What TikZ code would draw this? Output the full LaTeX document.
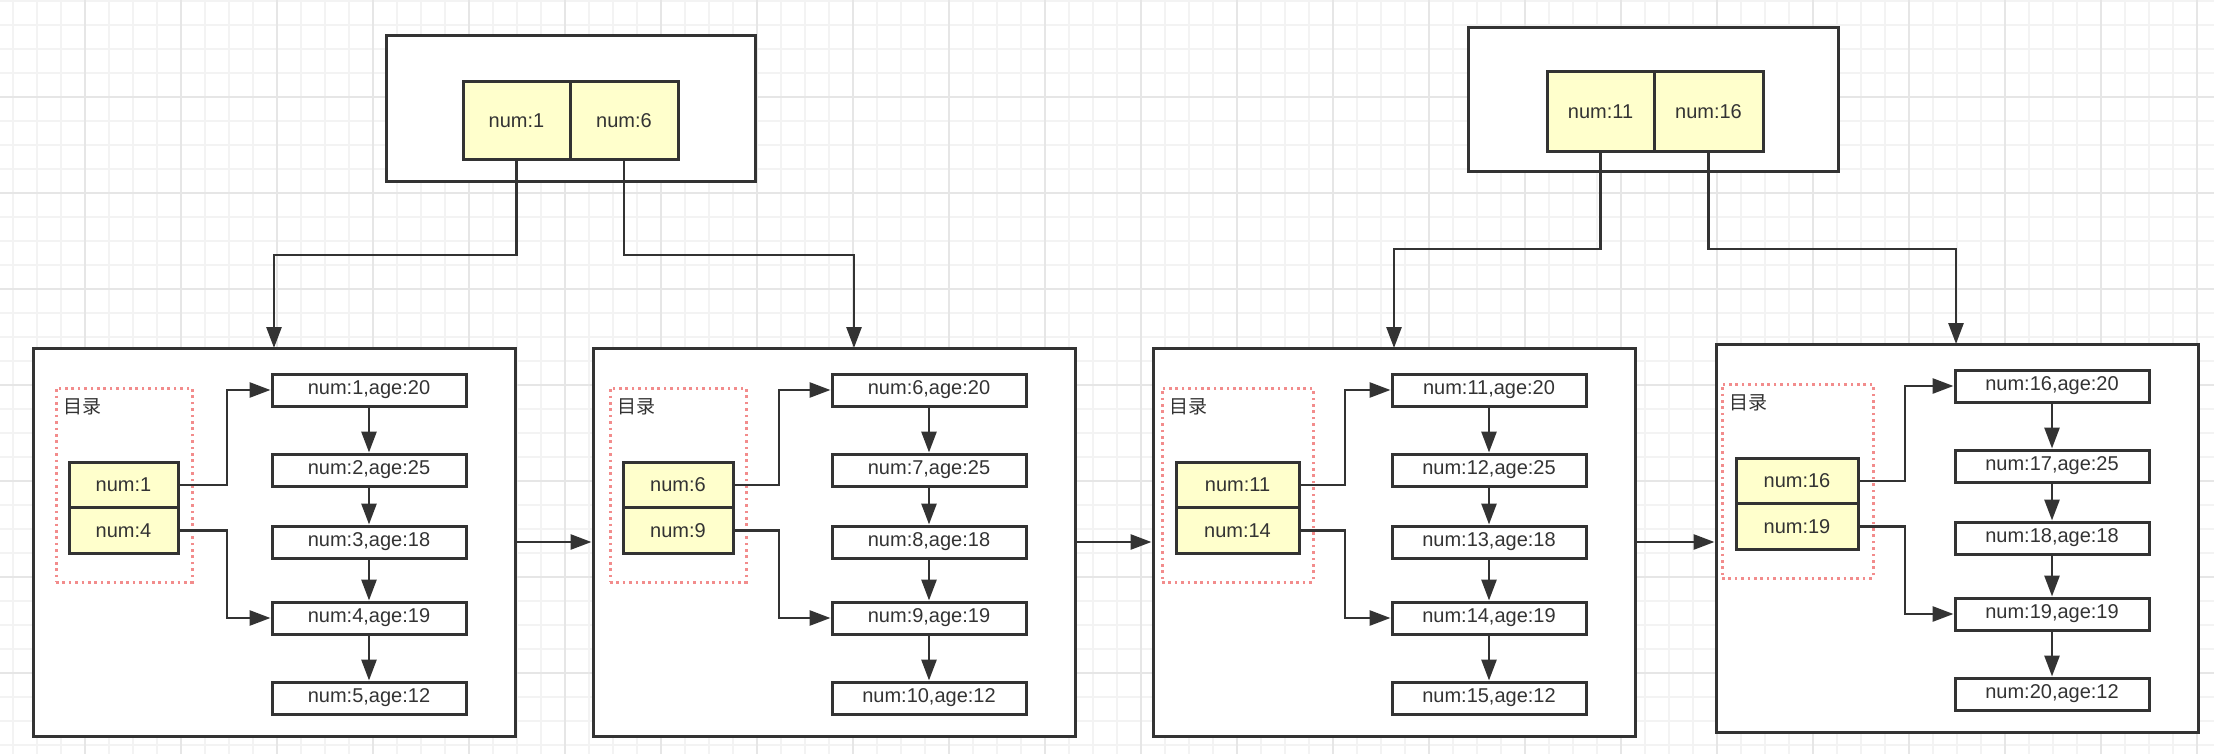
\documentclass[tikz,border=0pt]{standalone}
\usepackage{fontspec}
\setmainfont{Liberation Sans}
\newfontfamily\cjk{Noto Sans CJK SC}
\usetikzlibrary{arrows.meta}

\definecolor{linegray}{HTML}{333333}
\definecolor{celly}{HTML}{FFFFCC}
\definecolor{dotred}{HTML}{F28C8C}
\definecolor{gridlo}{HTML}{F3F3F3}
\definecolor{gridhi}{HTML}{E6E6E6}

\begin{document}
\begin{tikzpicture}[x=1pt, y=-1pt,
	box/.style={draw=linegray, line width=3pt, fill=white, inner sep=0pt},
	cell/.style={draw=linegray, line width=3pt, fill=celly, text=linegray, inner sep=0pt, font=\fontsize{20}{24}\selectfont},
	rec/.style={draw=linegray, line width=3pt, fill=white, text=linegray, inner sep=0pt, minimum width=\rw pt, minimum height=32pt, font=\fontsize{20}{24}\selectfont},
	dir/.style={draw=dotred, line width=3pt, dash pattern=on 2.6pt off 3.8pt, inner sep=0pt},
	link/.style={draw=linegray, line width=2.8pt, -{Triangle[length=21pt,width=15pt]}}]
	% Parameters
	\def\bw{482}   % width of a leaf page
	\def\bh{388}   % height of a leaf page
	\def\rw{194}   % width of a record
	
	\useasboundingbox (0,0) rectangle (2214,754);
	
	% Background grid
	\foreach \gx in {13,37,...,2214} \draw[gridlo, line width=1.2pt] (\gx,0) -- (\gx,754);
	\foreach \gy in {1,25,...,754} \draw[gridlo, line width=1.2pt] (0,\gy) -- (2214,\gy);
	\foreach \gx in {85,181,...,2214} \draw[gridhi, line width=1.5pt] (\gx,0) -- (\gx,754);
	\foreach \gy in {97,193,...,754} \draw[gridhi, line width=1.5pt] (0,\gy) -- (2214,\gy);
	
	% Top index pages
	\node[box, minimum width=369pt, minimum height=146pt] (top1) at (570.5,109) {};
	\node[cell, minimum width=107pt, minimum height=78pt] (t1a) at (516.5,121) {num:1};
	\node[cell, minimum width=108pt, minimum height=78pt] (t1b) at (624,121) {num:6};
	\node[box, minimum width=370pt, minimum height=144pt] (top2) at (1653,100) {};
	\node[cell, minimum width=107pt, minimum height=80pt] (t2a) at (1600.5,112) {num:11};
	\node[cell, minimum width=109pt, minimum height=80pt] (t2b) at (1708.5,112) {num:16};
	
	% Leaf pages
	\foreach \i/\bx/\ty/\dl/\dw/\yl/\yw/\ex/\inx/\a in {1/33/348/23/136/36/109/194/241/1, 2/593/348/17/136/30/110/186/261/6, 3/1153/348/9/151/23/123/192/241/11, 4/1716/344/6/151/20/122/189/240/16} {
		\pgfmathtruncatemacro\b{\a+3}
		\node[box, minimum width=\bw pt, minimum height=\bh pt] (blk\i) at (\bx+\bw/2, \ty+\bh/2) {};
		% directory
		\node[dir, minimum width=\dw*1pt, minimum height=194pt] (dir\i) at (\bx+\dl+\dw/2, \ty+137) {};
		\node[right, inner sep=0pt, text=linegray, font=\cjk\fontsize{19}{22}\selectfont] (lbl\i) at (\bx+\dl+7, \ty+59) {目录};
		\node[cell, minimum width=\yw*1pt, minimum height=45.5pt] (ca\i) at (\bx+\yl+\yw/2, \ty+137) {num:\a};
		\node[cell, minimum width=\yw*1pt, minimum height=45.5pt] (cb\i) at (\bx+\yl+\yw/2, \ty+182.5) {num:\b};
		% records
		\foreach \r/\ry/\age in {0/42/20, 1/122/25, 2/194/18, 3/270/19, 4/350/12} {
			\pgfmathtruncatemacro\n{\a+\r}
			\node[rec] (r\i\r) at (\bx+336, \ty+\ry) {num:\n,age:\age};
		}
		\foreach \r/\s in {0/1, 1/2, 2/3, 3/4} \draw[link] (r\i\r) -- (r\i\s);
		% directory pointers
		\coordinate (e\i) at (\bx+\ex, \ty+137);
		\coordinate (in\i) at (\bx+\inx, \ty);
		\draw[link] (ca\i.east) -- (ca\i.east -| e\i) |- (r\i0.west);
		\draw[link] (cb\i.east) -- (cb\i.east -| e\i) |- (r\i3.west);
	}
	
	% Links between leaf pages
	\foreach \i/\j in {1/2, 2/3, 3/4} \draw[link] (blk\i.east) -- (blk\i.east -| blk\j.west);
	
	% Index to leaf pages
	\coordinate (j1) at (0,255);
	\coordinate (j2) at (0,249);
	\draw[link] (t1a.south) -- (t1a.south |- j1) -| (in1);
	\draw[link] (t1b.south) -- (t1b.south |- j1) -| (in2);
	\draw[link] (t2a.south) -- (t2a.south |- j2) -| (in3);
	\draw[link] (t2b.south) -- (t2b.south |- j2) -| (in4);
	
\end{tikzpicture}
\end{document}
